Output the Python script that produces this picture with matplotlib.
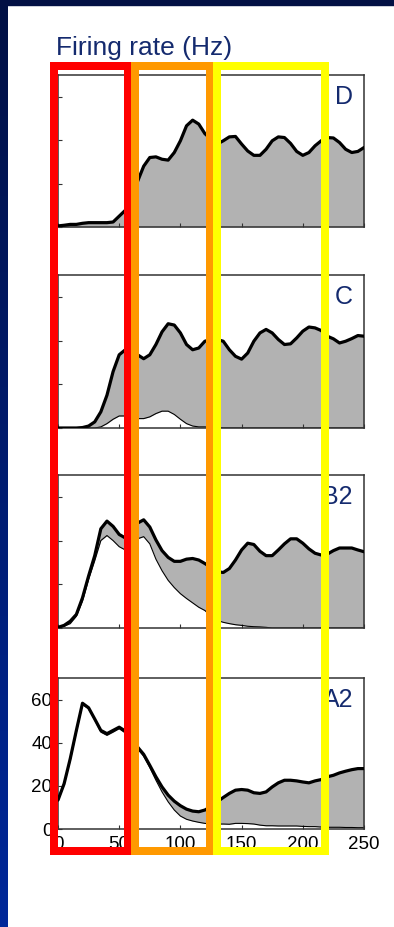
import matplotlib
matplotlib.use("Agg")
import numpy as np
import matplotlib.pyplot as plt
from matplotlib.patches import Rectangle
from matplotlib.colors import LinearSegmentedColormap

plt.rcParams['font.family'] = ['Liberation Sans', 'DejaVu Sans']

# Time bins (ms) of the peri-stimulus firing-rate curves
time_ms = list(range(0, 251, 5))

# Panel D
d_upper = [0.5, 0.8, 1.2, 1.2, 1.7, 2.0, 2.0, 2.0, 2.0, 2.3,
           5.0, 7.7, 15.0, 21.0, 28.0, 32.0, 32.3, 31.2, 30.8, 34.3,
           39.7, 46.6, 49.2, 47.4, 43.0, 40.5, 38.2, 39.7, 41.5, 41.7,
           38.2, 35.0, 33.0, 33.0, 35.8, 39.7, 41.5, 41.2, 38.5, 34.8,
           33.0, 34.3, 37.4, 39.7, 41.2, 41.0, 38.9, 35.8, 34.3, 34.8,
           36.6]
d_lower = [0.0] * len(time_ms)

# Panel C
c_upper = [0.0, 0.0, 0.0, 0.0, 0.2, 0.9, 2.8, 7.4, 15.0, 25.8,
           33.5, 35.8, 34.3, 33.5, 31.7, 33.5, 38.2, 44.0, 47.7, 47.1,
           43.5, 38.2, 35.8, 36.6, 39.7, 40.5, 40.5, 39.7, 35.8, 32.8,
           31.5, 34.3, 39.7, 43.5, 45.1, 43.5, 40.5, 38.2, 38.5, 41.2,
           44.3, 46.2, 45.8, 44.6, 42.0, 40.8, 38.9, 39.7, 40.9, 42.3,
           42.0]
c_lower = [0.0, 0.0, 0.0, 0.0, 0.0, 0.0, 0.0, 0.5, 2.0, 4.0,
           5.5, 5.5, 4.6, 4.3, 4.3, 5.1, 6.6, 7.7, 7.7, 6.2,
           4.0, 2.0, 0.9, 0.5, 0.5, 0.3, 0.2, 0.0, 0.0, 0.0,
           0.0, 0.0, 0.0, 0.0, 0.0, 0.0, 0.0, 0.0, 0.0, 0.0,
           0.0, 0.0, 0.0, 0.0, 0.0, 0.0, 0.0, 0.0, 0.0, 0.0,
           0.0]

# Panel B2
b2_upper = [0.3, 1.2, 3.1, 6.2, 13.8, 23.8, 33.1, 45.4, 48.9, 46.5,
            42.8, 41.2, 44.6, 48.0, 49.5, 46.2, 40.3, 35.4, 32.3, 30.5,
            30.5, 31.5, 31.8, 31.1, 29.5, 27.7, 25.8, 25.4, 27.2, 31.1,
            35.7, 38.8, 38.2, 35.1, 33.1, 33.1, 35.7, 38.5, 40.8, 40.8,
            38.8, 36.2, 34.2, 33.4, 33.8, 35.4, 36.6, 36.6, 36.6, 35.7,
            34.9]
b2_lower = [0.3, 0.8, 2.0, 5.4, 12.3, 22.3, 30.8, 40.0, 42.3, 40.0,
            37.2, 35.7, 37.7, 40.8, 41.8, 38.5, 31.5, 26.2, 21.8, 18.5,
            15.7, 13.5, 11.5, 9.5, 8.0, 5.4, 3.5, 2.6, 2.0, 1.5,
            1.2, 0.8, 0.6, 0.5, 0.3, 0.0, 0.0, 0.0, 0.0, 0.0,
            0.0, 0.0, 0.0, 0.0, 0.0, 0.0, 0.0, 0.0, 0.0, 0.0,
            0.0]

# Panel A2
a2_upper = [13.4, 21.0, 32.6, 45.7, 58.3, 56.2, 51.0, 45.7, 44.2, 45.7,
            47.2, 45.4, 41.8, 38.0, 34.6, 29.5, 24.2, 19.5, 15.7, 12.9,
            10.8, 9.2, 8.3, 8.0, 8.8, 10.3, 12.6, 14.6, 16.5, 18.0,
            18.3, 18.0, 16.8, 16.5, 17.2, 19.5, 21.4, 22.6, 22.6, 22.3,
            21.8, 21.4, 22.3, 22.9, 24.2, 24.9, 26.0, 26.8, 27.5, 28.0,
            28.0]
a2_lower = [13.1, 20.6, 31.8, 44.9, 57.7, 55.7, 50.6, 44.9, 43.4, 44.9,
            46.5, 44.5, 41.1, 37.2, 33.7, 28.5, 22.6, 17.2, 12.6, 8.8,
            6.0, 4.5, 3.7, 3.1, 2.6, 2.3, 2.3, 2.3, 2.2, 2.6,
            2.6, 2.5, 2.3, 1.8, 1.5, 1.5, 1.4, 1.4, 1.4, 1.4,
            1.2, 1.1, 1.1, 0.9, 0.8, 0.8, 0.8, 0.7, 0.7, 0.6,
            0.6]

panel_labels = ["D", "C", "B2", "A2"]
panel_upper = [d_upper, c_upper, b2_upper, a2_upper]
panel_lower = [d_lower, c_lower, b2_lower, a2_lower]

x_ticks = [0, 50, 100, 150, 200, 250]
y_ticks = [0, 20, 40, 60]

# Analysis windows (ms) outlined across all panels
window_start = [-3.3, 63.1, 129.5]
window_end = [57.0, 123.8, 218.2]
window_colors = ["#ff0000", "#ff9900", "#ffff00"]

NAVY = "#142a6e"
FILL = "#b2b2b2"

W, H = 394, 927
fig = plt.figure(figsize=(W / 100, H / 100), dpi=100, facecolor="white")

# slide background: dark frame at top and a navy-to-blue strip at left
strip = fig.add_axes([0, 0, 8 / W, 1])
grad = np.linspace(0, 1, 256).reshape(-1, 1)
cmap = LinearSegmentedColormap.from_list("slide", ["#021044", "#00289a"])
strip.imshow(grad, aspect="auto", cmap=cmap, extent=[0, 1, 0, 1], origin="upper")
strip.axis("off")
fig.add_artist(Rectangle((0, 1 - 5 / H), 1, 5 / H, transform=fig.transFigure,
                         color="#021044", zorder=5))

# panel layout in pixels (top, bottom)
panel_px = [(75, 227), (275, 428), (475, 628), (678, 829)]
left_px, right_px = 58, 364

for i, (label, up, lo) in enumerate(zip(panel_labels, panel_upper, panel_lower)):
    top, bot = panel_px[i]
    ax = fig.add_axes([left_px / W, 1 - bot / H, (right_px - left_px) / W, (bot - top) / H])
    ax.fill_between(time_ms, lo, up, color=FILL, lw=0, zorder=1)
    ax.plot(time_ms, up, color="black", lw=2.3, solid_joinstyle="round",
            solid_capstyle="round", zorder=3)
    ax.plot(time_ms, lo, color="black", lw=0.8, solid_joinstyle="round", zorder=2)
    ax.set_xlim(0, 250)
    ax.set_ylim(0, 70)
    ax.set_xticks(x_ticks)
    ax.set_yticks(y_ticks)
    ax.tick_params(direction="in", length=3, width=0.8, colors="#333333",
                   labelsize=13.5, labelcolor="black")
    ax.tick_params(axis="x", pad=5)
    ax.tick_params(axis="y", pad=4)
    last = i == len(panel_labels) - 1
    ax.tick_params(labelbottom=last, labelleft=last)
    for sp in ax.spines.values():
        sp.set_color("#333333")
        sp.set_linewidth(1.1)
    ax.text(0.964, 1 - 29 / (bot - top), label, transform=ax.transAxes,
            ha="right", va="baseline", fontsize=18, color=NAVY)

fig.text(56 / W, 1 - 55 / H, "Firing rate (Hz)", ha="left", va="baseline",
         fontsize=19, color=NAVY)

# coloured window outlines drawn over everything
ov = fig.add_axes([left_px / W, 1 - 851 / H, (right_px - left_px) / W, (851 - 65.5) / H])
ov.set_xlim(0, 250)
ov.set_ylim(0, 1)
ov.axis("off")
for s, e, c in zip(window_start, window_end, window_colors):
    ov.add_patch(Rectangle((s, 0), e - s, 1, fill=False, edgecolor=c,
                           lw=8 * 0.72, joinstyle="miter", clip_on=False))

fig.savefig("out.png", dpi=100, facecolor="white")
